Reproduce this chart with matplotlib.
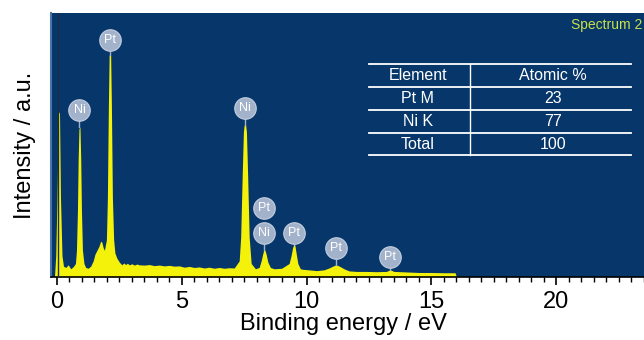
import matplotlib
matplotlib.use("Agg")
import matplotlib.pyplot as plt
from matplotlib.ticker import MultipleLocator

# Spectrum (energy, intensity in arbitrary 0-100 units)
energy = [-0.1, -0.05, 0.0, 0.06, 0.1, 0.14, 0.2, 0.26, 0.35, 0.45, 0.55, 0.65, 0.74,
          0.78, 0.82, 0.85, 0.88, 0.92, 0.95, 0.98, 1.02, 1.08, 1.15, 1.25, 1.35,
          1.45, 1.52, 1.6, 1.68, 1.75, 1.8, 1.85, 1.9, 1.98, 2.02, 2.06, 2.09, 2.15,
          2.18, 2.22, 2.27, 2.32, 2.4, 2.5, 2.6, 2.68, 2.75, 2.82, 2.9, 3.0, 3.1, 3.2,
          3.3, 3.5, 3.7, 3.9, 4.1, 4.3, 4.5, 4.7, 4.9, 5.1, 5.3, 5.5,
          5.7, 5.9, 6.1, 6.3, 6.5, 6.7, 6.9, 7.1, 7.3, 7.36, 7.42, 7.47, 7.5, 7.56,
          7.59, 7.64, 7.7, 7.78, 7.95, 8.1, 8.18, 8.24, 8.28, 8.33, 8.38, 8.45, 8.55,
          8.7, 9.0, 9.3, 9.38, 9.44, 9.48, 9.53, 9.58, 9.65, 9.75,
          9.85, 10.1, 10.4, 10.7, 10.9, 11.05, 11.15, 11.25, 11.35, 11.5, 11.7, 12.0,
          12.4, 12.8, 13.2, 13.3, 13.35, 13.4, 13.5, 14.0, 14.5, 15.0, 15.5, 15.95,
          16.0]
intensity = [0, 8, 30, 62, 62.5, 30, 8, 4, 3.5, 4.5, 3, 3.8, 5,
             10, 25, 45, 56, 56.8, 45, 25, 10, 5, 3.5, 3.2, 4,
             6, 8.5, 10, 11.5, 13.5, 13, 11, 10, 14, 30, 65, 84, 84,
             65, 30, 14, 9, 7, 5.5, 4.5, 5.2, 4.6, 5.1, 4.5, 4.9, 4.4, 4.8,
             4.5, 4.4, 4.6, 4.2, 4.4, 4.1, 4.3, 4.0, 4.1, 3.6, 3.9, 3.5,
             3.7, 3.3, 3.6, 3.2, 3.5, 3.2, 3.4, 3.3, 6, 15, 38, 55, 57.5, 57.5,
             55, 38, 15, 5, 3, 3.5, 6, 8.5, 10, 10.1, 8.5, 5.5, 3.5,
             3, 3.2, 5, 8, 11, 12, 12, 9, 5, 3,
             2.8, 2.6, 2.3, 2.6, 3.3, 4.0, 4.4, 4.3, 3.8, 3, 2.2, 2.0,
             2.0, 1.9, 2.0, 2.4, 2.6, 2.4, 2.0, 1.8, 1.6, 1.6, 1.5, 1.5,
             0]

# Peak labels
label_energy = [0.9, 2.12, 7.53, 8.31, 8.31, 9.5, 11.18, 13.35]
label_text = ["Ni", "Pt", "Ni", "Pt", "Ni", "Pt", "Pt", "Pt"]
label_y = [63.2, 89.8, 64.0, 26.0, 16.6, 16.6, 10.9, 7.5]
stem_top = [56.8, 84.0, 57.5, None, 10.1, 12.0, 4.4, 2.6]

# Table
table_elements = ["Element", "Pt M", "Ni K", "Total"]
table_atomic = ["Atomic %", "23", "77", "100"]

W, H = 644, 340
fig = plt.figure(figsize=(W / 100, H / 100), dpi=100)
ax = fig.add_axes([51 / W, (H - 276.7) / H, (W - 51) / W, (276.7 - 13) / H])
bg = "#07376a"
ax.set_facecolor(bg)
ax.set_xlim(-0.24, 23.52)
ax.set_ylim(0, 100)

ax.fill_between(energy, intensity, 0, color="#f4f20a", lw=0, zorder=2)
ax.axvline(0.03, color="#1b2c44", lw=1.0, zorder=3)

circ_col = "#a3b2cb"
for e, t, y, s in zip(label_energy, label_text, label_y, stem_top):
    if s is not None:
        ax.plot([e, e], [s, y - 4], color=circ_col, lw=1.0, zorder=4)
    ax.scatter([e], [y], s=240, color=circ_col, edgecolors="#c4cfe0",
               linewidths=0.8, zorder=5)
    ax.text(e, y, t, color="white", ha="center", va="center", fontsize=9,
            family="Liberation Sans", zorder=6)

# Spectrum label
ax.text(0.998, 0.955, "Spectrum 2", transform=ax.transAxes, ha="right", va="center",
        color="#c9e04a", fontsize=10, family="Liberation Sans")

# table drawn in figure pixel coordinates
def fx(px):
    return px / W

def fy(py):
    return 1 - py / H

rows_y = [64, 87.3, 110, 132.7, 155.3]
for ry in rows_y:
    fig.add_artist(plt.Line2D([fx(369), fx(631)], [fy(ry), fy(ry)],
                              color="white", lw=1.3))
fig.add_artist(plt.Line2D([fx(470), fx(470)], [fy(64), fy(155.3)],
                          color="white", lw=1.0))
for i in range(4):
    cy = (rows_y[i] + rows_y[i + 1]) / 2
    fig.text(fx(418), fy(cy), table_elements[i], color="white", ha="center",
             va="center", fontsize=11.5, family="Liberation Sans")
    fig.text(fx(553), fy(cy), table_atomic[i], color="white", ha="center",
             va="center", fontsize=11.5, family="Liberation Sans")

# axes styling
for side in ["top", "right"]:
    ax.spines[side].set_visible(False)
ax.spines["left"].set_color("#4a75a8")
ax.spines["left"].set_linewidth(1.5)
ax.spines["bottom"].set_color("black")
ax.spines["bottom"].set_linewidth(1.2)
ax.set_yticks([])
ax.set_xticks([0, 5, 10, 15, 20])
ax.xaxis.set_minor_locator(MultipleLocator(0.5))
ax.tick_params(axis="x", which="major", direction="out", length=6, width=1.2,
               pad=4, labelsize=17)
ax.tick_params(axis="x", which="minor", direction="out", length=3.5, width=1.0)
for lab in ax.get_xticklabels():
    lab.set_family("Liberation Sans")

fig.text(343 / W, 1 - 324 / H, "Binding energy / eV", ha="center", va="center",
         fontsize=17, family="Liberation Sans")
fig.text(25 / W, 1 - 145 / H, "Intensity / a.u.", ha="center", va="center",
         rotation=90, fontsize=17, family="Liberation Sans")

fig.savefig("out.png", dpi=100, facecolor="white")
